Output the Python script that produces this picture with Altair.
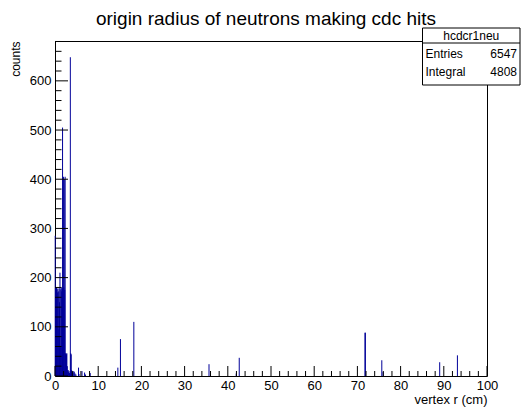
import altair as alt
import pandas as pd

# ---- data (bin centres in cm, bin width 0.1 cm) ----
r_center = [0.05, 0.15, 0.25, 0.35, 0.45, 0.55, 0.65, 0.75, 0.85, 0.95,
            1.05, 1.15, 1.25, 1.35, 1.45, 1.55, 1.65, 1.75, 1.85, 1.95,
            2.05, 2.15, 2.25, 2.35, 2.45, 2.55, 2.65, 2.75, 2.85, 2.95,
            3.05, 3.15, 3.25, 3.35, 3.45, 3.55, 3.65, 3.75, 3.85, 3.95,
            4.05, 4.15, 4.35, 4.45, 4.65, 4.85, 5.45, 5.55, 6.25, 6.85,
            7.05, 8.15, 14.55, 15.15, 18.25, 35.65, 41.95, 42.65, 71.75, 71.85,
            75.65, 75.95, 89.05, 93.15]
counts = [285, 178, 172, 180, 176, 170, 178, 95, 172, 178,
          150, 210, 60, 176, 180, 172, 178, 505, 178, 405,
          180, 400, 175, 405, 46, 46, 44, 46, 20, 12,
          12, 8, 10, 6, 5, 648, 46, 44, 12, 10,
          8, 6, 10, 8, 5, 3, 17, 4, 10, 7,
          3, 6, 17, 75, 110, 24, 5, 37, 88, 88,
          32, 8, 28, 42]

x_major = [0, 10, 20, 30, 40, 50, 60, 70, 80, 90, 100]
x_minor = [v for v in range(0, 101, 2) if v % 10 != 0]
y_major = [0, 100, 200, 300, 400, 500, 600]
y_minor = [v for v in range(0, 681, 20) if v % 100 != 0]

hist_name = "hcdcr1neu"
stat_labels = ["Entries", "Integral"]
stat_values = ["6547", "4808"]

title_text = "origin radius of neutrons making cdc hits"
x_title = "vertex r (cm)"
y_title = "counts"

FONT = "Liberation Sans"
BLUE = "#000099"
W, H = 432, 335
X_DOMAIN = [0, 100]
Y_DOMAIN = [0, 681]

hist_df = pd.DataFrame({"r": r_center, "n": counts})

xs = alt.Scale(domain=X_DOMAIN, nice=False, zero=False)
ys = alt.Scale(domain=Y_DOMAIN, nice=False)

X_AXIS = alt.Axis(values=x_major, title=x_title, ticks=False, domain=False, grid=False,
                  labelFontSize=13, labelFont=FONT, labelColor="black", labelPadding=3,
                  labelFlush=False, format="d",
                  titleFont=FONT, titleFontSize=13, titleFontWeight="normal",
                  titleColor="black", titleX=W, titleY=23, titleAlign="right",
                  titleBaseline="middle", titleAnchor="end")
Y_AXIS = alt.Axis(values=y_major, title=y_title, ticks=False, domain=False, grid=False,
                  labelFontSize=13, labelFont=FONT, labelColor="black", labelPadding=4,
                  labelFlush=False, format="d",
                  titleFont=FONT, titleFontSize=12, titleFontWeight="normal",
                  titleColor="black", titleX=-40, titleY=0, titleAngle=-90,
                  titleAlign="right", titleBaseline="middle", titleAnchor="end")

hist = alt.Chart(hist_df).mark_rule(color=BLUE, strokeWidth=1).encode(
    x=alt.X("r:Q", scale=xs, axis=X_AXIS),
    y=alt.Y("n:Q", scale=ys, axis=Y_AXIS),
    y2=alt.datum(0),
)

def xticks(vals, length):
    return alt.Chart(pd.DataFrame({"r": vals})).mark_rule(color="black", strokeWidth=1).encode(
        x=alt.X("r:Q", scale=xs, axis=X_AXIS),
        y=alt.value(H), y2=alt.value(H - length))

def yticks(vals, length):
    return alt.Chart(pd.DataFrame({"n": vals})).mark_rule(color="black", strokeWidth=1).encode(
        y=alt.Y("n:Q", scale=ys, axis=Y_AXIS),
        x=alt.value(0), x2=alt.value(length))

one = pd.DataFrame({"a": [0]})
bx0, bx1, by0, by1 = 367.5, 465, -13, 44
row_y = [12.5, 30.5]
box = alt.Chart(one).mark_rect(fill="white", stroke="black", strokeWidth=1).encode(
    x=alt.value(bx0), x2=alt.value(bx1), y=alt.value(by0), y2=alt.value(by1))
sep = alt.Chart(one).mark_rule(color="black", strokeWidth=1).encode(
    x=alt.value(bx0), x2=alt.value(bx1), y=alt.value(2), y2=alt.value(2))
name_txt = alt.Chart(one).mark_text(font=FONT, fontSize=12, color="black", align="center",
                                    baseline="middle").encode(
    x=alt.value((bx0 + bx1) / 2), y=alt.value(-5.5), text=alt.value(hist_name))

stat_layers = []
for i in range(len(stat_labels)):
    stat_layers.append(alt.Chart(one).mark_text(font=FONT, fontSize=12, color="black",
                                                align="left", baseline="middle").encode(
        x=alt.value(bx0 + 3), y=alt.value(row_y[i]), text=alt.value(stat_labels[i])))
    stat_layers.append(alt.Chart(one).mark_text(font=FONT, fontSize=12, color="black",
                                                align="right", baseline="middle").encode(
        x=alt.value(bx1 - 3), y=alt.value(row_y[i]), text=alt.value(stat_values[i])))

chart = alt.layer(
    hist,
    xticks(x_major, 10), xticks(x_minor, 5),
    yticks(y_major, 13), yticks(y_minor, 6.5),
    box, sep, name_txt, *stat_layers,
).properties(
    width=W, height=H,
    background="white",
    autosize=alt.AutoSizeParams(type="none"),
    padding={"left": 47, "top": 33, "right": 35, "bottom": 36},
    title=alt.TitleParams(title_text, font=FONT, fontSize=19, fontWeight="normal",
                          color="black", anchor="middle", frame="group", offset=-1, dx=-5),
).configure_view(stroke="black", strokeWidth=1)

chart.save("out.html", embed_options={"renderer": "svg", "actions": False})
